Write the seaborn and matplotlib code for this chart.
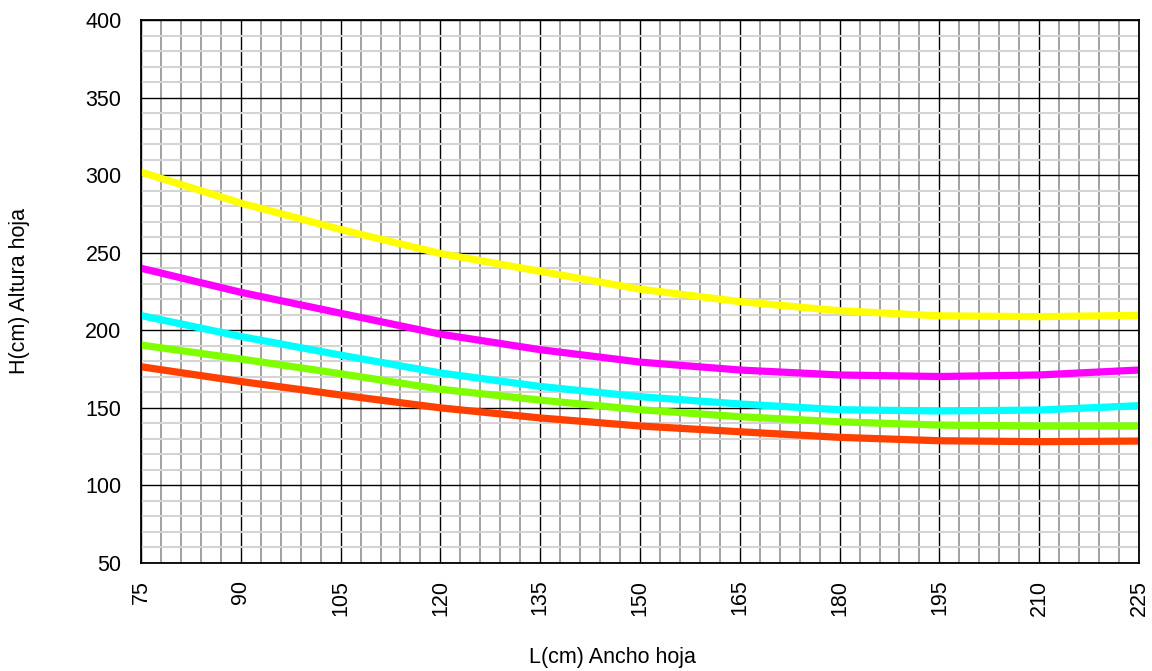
import numpy as np
import pandas as pd
import matplotlib
matplotlib.use("Agg")
import matplotlib.pyplot as plt
import seaborn as sns
from matplotlib.ticker import MultipleLocator

ancho = [75, 90, 105, 120, 135, 150, 165, 180, 195, 210, 225]
serie_amarilla = [302, 282, 265, 249.5, 238, 226.5, 218.5, 212.6, 209.3, 208.8, 209.6]
serie_magenta = [240, 224.5, 211, 197.5, 187.5, 179.5, 174.4, 171.2, 170.2, 171.2, 174.4]
serie_cian = [209.5, 196, 184, 172.5, 163.8, 157.2, 152.5, 148.8, 148, 148.6, 151.4]
serie_verde = [190.5, 181.5, 172, 162, 155, 148.8, 144.3, 141, 138.9, 138.3, 138.3]
serie_roja = [176.5, 167, 158.3, 150, 143.5, 138.3, 134.6, 131, 128.8, 128.2, 128.6]

series = {
    "amarilla": serie_amarilla,
    "magenta": serie_magenta,
    "cian": serie_cian,
    "verde": serie_verde,
    "roja": serie_roja,
}
colores = {
    "amarilla": "#FFFF00",
    "magenta": "#FF00FF",
    "cian": "#00FFFF",
    "verde": "#80FF00",
    "roja": "#FF4000",
}

df = pd.concat(
    [pd.DataFrame({"L": ancho, "H": v, "serie": k}) for k, v in series.items()],
    ignore_index=True,
)

sns.set_style("white")
plt.rcParams["font.family"] = ["Liberation Sans", "DejaVu Sans"]

fig = plt.figure(figsize=(11.52, 6.71), dpi=100)
ax = fig.add_axes([141 / 1152, 1 - 563 / 671, 998 / 1152, 543 / 671])

ax.set_xlim(75, 225)
ax.set_ylim(50, 400)
ax.xaxis.set_major_locator(MultipleLocator(15))
ax.xaxis.set_minor_locator(MultipleLocator(3))
ax.yaxis.set_major_locator(MultipleLocator(50))
ax.yaxis.set_minor_locator(MultipleLocator(10))

ax.grid(which="minor", axis="x", color="#9a9a9a", linewidth=1.3, zorder=0)
ax.grid(which="minor", axis="y", color="#d4d4d4", linewidth=1.5, zorder=0)
ax.grid(which="major", axis="both", color="#000000", linewidth=1.0, zorder=0)
ax.set_axisbelow(True)

sns.lineplot(data=df, x="L", y="H", hue="serie", palette=colores,
             linewidth=5.2, legend=False, ax=ax, sort=True,
             solid_capstyle="round", solid_joinstyle="round")

for s in ax.spines.values():
    s.set_color("black")
    s.set_linewidth(1.3)

ax.tick_params(which="major", direction="out", length=7, width=1.2,
               labelsize=15.5, colors="black")
ax.tick_params(which="minor", direction="in", length=5, width=1.0,
               color="#555555")
ax.tick_params(axis="x", which="major", labelrotation=90, pad=5)
ax.tick_params(axis="y", which="major", pad=7)

ax.set_xlabel("L(cm) Ancho hoja", fontsize=15.5, color="black")
ax.set_ylabel("H(cm) Altura hoja", fontsize=15.5, color="black", labelpad=40)
ax.xaxis.set_label_coords(0.472, -0.155)

fig.savefig("out.png", dpi=100)
